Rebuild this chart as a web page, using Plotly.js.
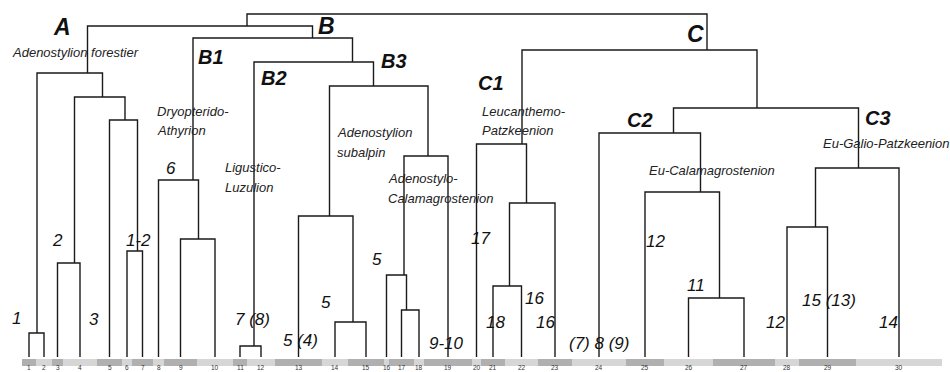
<!DOCTYPE html>
<html><head><meta charset="utf-8">
<script src="https://cdn.plot.ly/plotly-3.0.1.min.js"></script>
<style>html,body{margin:0;padding:0;background:#fff}#chart{width:950px;height:372px}</style>
</head><body><div id="chart"></div>
<script>
// ---- data ----
const leafLabels = ["1","2","3","4","5","6","7","8","9","10","11","12","13","14","15","16","17","18","19","20","21","22","23","24","25","26","27","28","29","30"];
const groupWidths = [14,16,11,34,25,10,21,11,33,36,14,28,47,26,36,5,25,10,48,9,24,33,34,54,38,49,62,24,57,86];
// hclust-style merges: negative = leaf, positive = earlier merge (1-based)
const mergeLeft  = [-11,-1,-14,-17,-26,-21,-16,-3,-6,-9,-28,-13,6,-25,-8,11,7,-20,-24,-5,19,8,12,2,1,18,15,24,28];
const mergeRight = [-12,-2,-15,-18,-27,-22,4,-4,-7,-10,-29,3,-23,5,10,-30,-19,13,14,9,16,20,17,22,23,21,25,27,26];
const mergeHeight = [0.11,0.24,0.35,0.47,0.59,0.71,0.82,0.94,1.06,1.18,1.30,1.41,1.54,1.65,1.77,1.89,2.01,2.13,2.24,2.37,2.49,2.60,2.71,2.84,2.95,3.07,3.19,3.31,3.43];

const groupNames = ["A","B","C","B1","B2","B3","C1","C2","C3"];
const allianceNames = ["Adenostylion forestier","Dryopterido-","Athyrion","Ligustico-","Luzulion","Adenostylion","subalpin","Adenostylo-","Calamagrostenion","Leucanthemo-","Patzkeenion","Eu-Calamagrostenion","Eu-Galio-Patzkeenion"];
const clusterNumbers = ["1","2","3","1-2","6","7 (8)","5 (4)","5","5","9-10","17","16","18","16","(7) 8 (9)","12","11","15 (13)","12","14"];

// ---- layout of leaves ----
const leafStart = [], leafEnd = [], leafX = [];
let acc = 0;
groupWidths.forEach(w => { leafStart.push(acc); leafEnd.push(acc + w); leafX.push(acc + w / 2); acc += w; });
const total = acc;

const nodes = [];
function info(id) {
  if (id < 0) { const k = -id - 1; return {lo: leafStart[k], hi: leafEnd[k], h: 0, x: leafX[k]}; }
  return nodes[id - 1];
}
const lx = [], ly = [];
for (let i = 0; i < mergeLeft.length; i++) {
  const a = info(mergeLeft[i]), b = info(mergeRight[i]);
  const h = mergeHeight[i];
  const lo = Math.min(a.lo, b.lo), hi = Math.max(a.hi, b.hi);
  nodes.push({lo, hi, h, x: (lo + hi) / 2});
  lx.push(a.x, a.x, b.x, b.x, null);
  ly.push(a.h, h, h, b.h, null);
}

const lines = {x: lx, y: ly, type: 'scatter', mode: 'lines', line: {color: '#1a1a1a', width: 1.4}, hoverinfo: 'skip', showlegend: false};
const strip = {x: leafX, y: groupWidths.map(() => 0.07), base: groupWidths.map(() => -0.09), width: groupWidths,
  type: 'bar', marker: {color: groupWidths.map((w, i) => i % 2 === 0 ? '#b0b0b0' : '#d6d6d6'), line: {width: 0}},
  hoverinfo: 'skip', showlegend: false};

// ---- annotations (pixel placement helper, paper coordinates) ----
const L = 22, W = 950, H = 372;
function P(px, py) { return {x: (px - L) / total, y: (H - py) / H}; }
const FONT = 'Liberation Sans, Arial, sans-serif';
const ann = [];
const groupPos = [[62,27,23],[326,26,23],[695,34,23],[211,57,20],[274,78,20],[394,61,20],[491,83,20],[640,120,20],[878,118,20]];
groupNames.forEach((t, i) => {
  const p = P(groupPos[i][0], groupPos[i][1]);
  ann.push({x: p.x, y: p.y, xref: 'paper', yref: 'paper', text: '<b><i>' + t + '</i></b>', showarrow: false, xanchor: 'center', yanchor: 'middle', font: {family: FONT, size: groupPos[i][2], color: '#111'}});
});
const alliancePos = [[11,53],[156,112],[156,130],[224,167],[224,187],[336,132],[336,152],[387,178],[387,198],[481,112],[481,130],[648,170],[822,143]];
allianceNames.forEach((t, i) => {
  const p = P(alliancePos[i][0], alliancePos[i][1]);
  ann.push({x: p.x, y: p.y, xref: 'paper', yref: 'paper', text: '<i>' + t + '</i>', showarrow: false, xanchor: 'left', yanchor: 'middle', borderpad: 0, font: {family: FONT, size: 13, color: '#222'}});
});
const numberPos = [[16,318],[57,240],[94,319],[138,240],[171,168],[252,319],[300,340],[326,302],[377,259],[446,343],[480,238],[534,298],[495,322],[545,322],[599,343],[655,241],[696,285],[829,300],[775,322],[888,322]];
clusterNumbers.forEach((t, i) => {
  const p = P(numberPos[i][0], numberPos[i][1]);
  ann.push({x: p.x, y: p.y, xref: 'paper', yref: 'paper', text: '<i>' + t + '</i>', showarrow: false, xanchor: 'center', yanchor: 'middle', font: {family: FONT, size: 17, color: '#111'}});
});
leafLabels.forEach((t, i) => {
  ann.push({x: leafX[i] / total, y: 0, xref: 'paper', yref: 'paper', text: t, showarrow: false, xanchor: 'center', yanchor: 'bottom', borderpad: 0, font: {family: FONT, size: 6.5, color: '#333'}});
});

const layout = {
  width: W, height: H,
  margin: {l: L, r: W - L - total, t: 0, b: 0},
  paper_bgcolor: '#fff', plot_bgcolor: '#fff',
  xaxis: {range: [0, total], visible: false, fixedrange: true},
  yaxis: {range: [-0.15, 3.57], visible: false, fixedrange: true},
  annotations: ann, showlegend: false
};
Plotly.newPlot('chart', [strip, lines], layout, {displayModeBar: false, staticPlot: true});
</script>
</body></html>
